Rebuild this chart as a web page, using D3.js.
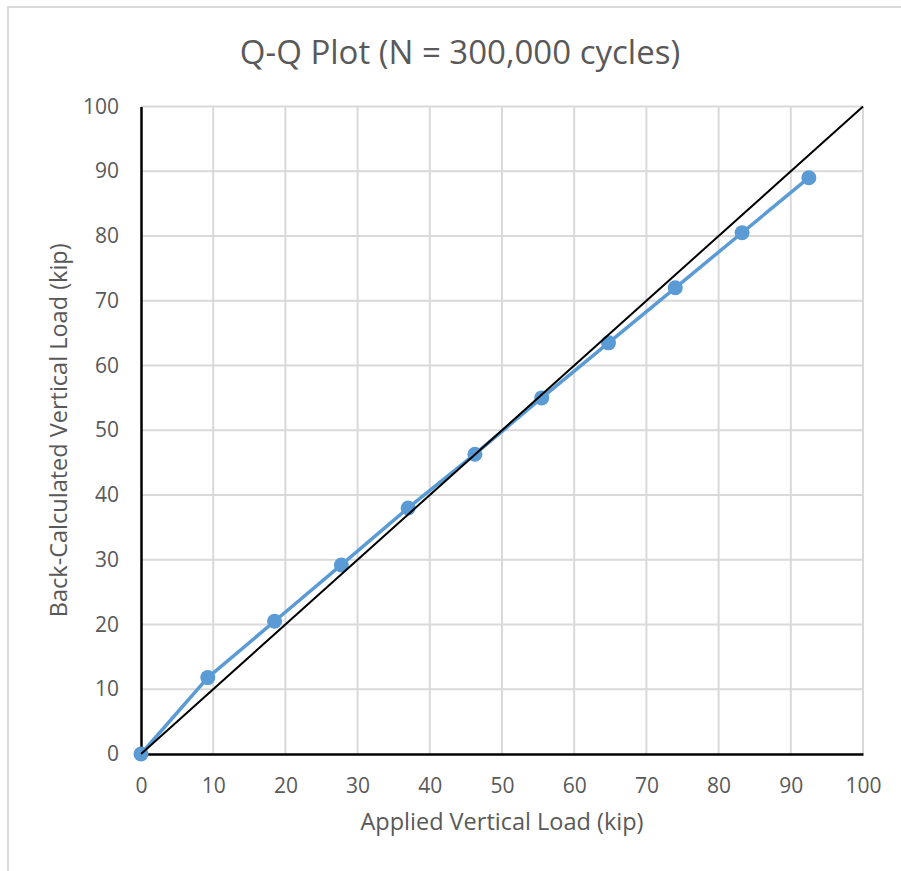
<!DOCTYPE html>
<html>
<head>
<meta charset="utf-8">
<script src="https://cdn.jsdelivr.net/npm/d3@7"></script>
<style>
  body { margin: 0; background: #fff; }
  text { font-family: "Open Sans", sans-serif; fill: #595959; }
</style>
</head>
<body>
<div class="chart"></div>
<script>
  // applied vs back-calculated load, kip
  var applied = [0, 9.25, 18.5, 27.75, 37, 46.25, 55.5, 64.75, 74, 83.25, 92.5];
  var backCalc = [0, 11.8, 20.5, 29.2, 38.0, 46.3, 55.0, 63.5, 72.0, 80.5, 89.0];
  var refLine = [0, 100];
  var ticks = [0, 10, 20, 30, 40, 50, 60, 70, 80, 90, 100];

  var W = 901, H = 871,
      margin = {top: 106.5, right: 38, bottom: 117, left: 141};

  var width = W - margin.left - margin.right,
      height = H - margin.top - margin.bottom;

  var data = applied.map(function(d, i) {
      return {x: d, y: backCalc[i]};
  });

  var xScale = d3.scaleLinear().domain([0, 100]).range([0, width]);
  var yScale = d3.scaleLinear().domain([0, 100]).range([height, 0]);

  var svg = d3.select('.chart')
      .append('svg')
      .attr('width', W)
      .attr('height', H);

  // chart frame
  svg.append('rect')
      .attr('x', 8).attr('y', 7)
      .attr('width', W + 20).attr('height', H + 20)
      .attr('fill', 'none')
      .attr('stroke', '#d9d9d9')
      .attr('stroke-width', 2);

  svg.append('text')
      .attr('x', 460)
      .attr('y', 64)
      .attr('text-anchor', 'middle')
      .style('font-size', '33px')
      .text('Q-Q Plot (N = 300,000 cycles)');

  var g = svg.append('g')
      .attr('transform', 'translate(' + margin.left + ',' + margin.top + ')');

  // grid
  g.append('g')
      .selectAll('line')
      .data(ticks.slice(1))
      .enter().append('line')
      .attr('x1', function(d) { return xScale(d); })
      .attr('x2', function(d) { return xScale(d); })
      .attr('y1', 0).attr('y2', height)
      .attr('stroke', '#d9d9d9').attr('stroke-width', 2);

  g.append('g')
      .selectAll('line')
      .data(ticks.slice(1))
      .enter().append('line')
      .attr('y1', function(d) { return yScale(d); })
      .attr('y2', function(d) { return yScale(d); })
      .attr('x1', 0).attr('x2', width)
      .attr('stroke', '#d9d9d9').attr('stroke-width', 2);

  var xAxis = d3.axisBottom(xScale).tickValues(ticks).tickSize(0).tickPadding(24);
  var yAxis = d3.axisLeft(yScale).tickValues(ticks).tickSize(0).tickPadding(22);

  var gx = g.append('g')
      .attr('transform', 'translate(0,' + height + ')')
      .call(xAxis);
  var gy = g.append('g').call(yAxis);

  [gx, gy].forEach(function(a) {
      a.select('.domain').attr('stroke', '#000').attr('stroke-width', 2.5);
      a.selectAll('text')
          .style('font-size', '21px')
          .style('font-family', '"Open Sans", sans-serif')
          .attr('fill', '#595959');
  });

  svg.append('text')
      .attr('x', margin.left + width / 2)
      .attr('y', 830)
      .attr('text-anchor', 'middle')
      .style('font-size', '23.5px')
      .text('Applied Vertical Load (kip)');

  svg.append('text')
      .attr('transform', 'translate(67,' + (margin.top + height / 2) + ') rotate(-90)')
      .attr('text-anchor', 'middle')
      .style('font-size', '23.5px')
      .text('Back-Calculated Vertical Load (kip)');

  var line = d3.line()
      .x(function(d) { return xScale(d.x); })
      .y(function(d) { return yScale(d.y); });

  g.append('path')
      .datum(data)
      .attr('d', line)
      .attr('fill', 'none')
      .attr('stroke', '#5b9bd5')
      .attr('stroke-width', 3.5)
      .attr('stroke-linejoin', 'round');

  g.selectAll('.dot')
      .data(data)
      .enter().append('circle')
      .attr('class', 'dot')
      .attr('cx', function(d) { return xScale(d.x); })
      .attr('cy', function(d) { return yScale(d.y); })
      .attr('r', 7.5)
      .attr('fill', '#5b9bd5');

  g.append('path')
      .datum(refLine.map(function(v) { return {x: v, y: v}; }))
      .attr('d', line)
      .attr('fill', 'none')
      .attr('stroke', '#000')
      .attr('stroke-width', 2);
</script>
</body>
</html>
